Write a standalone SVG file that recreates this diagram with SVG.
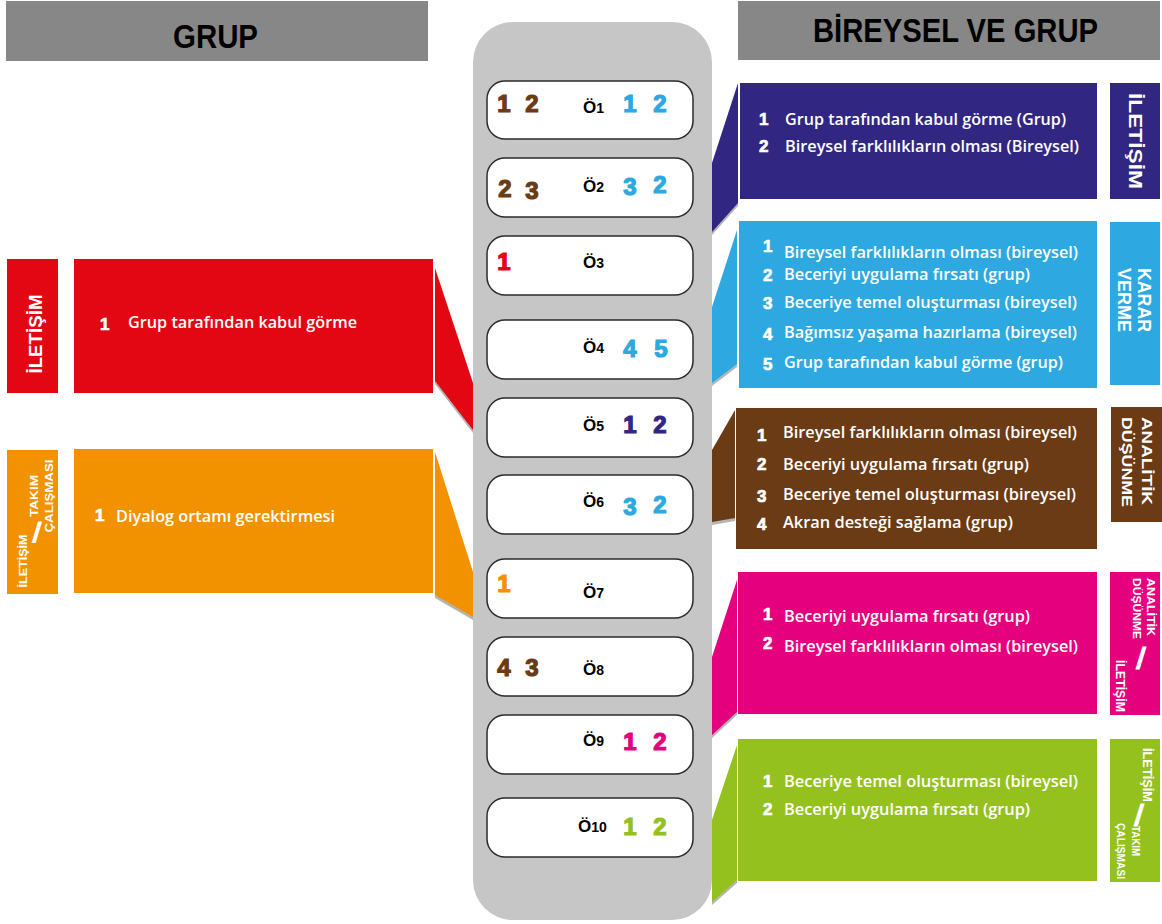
<svg xmlns="http://www.w3.org/2000/svg" width="1162" height="924" viewBox="0 0 1162 924">
<defs>
<style>
.hdr{fill:#878787}
.hdrt{font-family:"Liberation Sans",Arial,sans-serif;font-weight:bold;fill:#000}
.col{fill:#c6c6c6}
.row{fill:#fff;stroke:#2b2b2b;stroke-width:1.5}
.num{font-family:"Liberation Sans",Arial,sans-serif;font-weight:bold;font-size:24px;text-anchor:middle;stroke-width:1.2}
.lab{font-family:"Liberation Sans",Arial,sans-serif;font-weight:bold;font-size:17px;fill:#000}
.lab tspan{font-size:14px}
.body{font-family:"Open Sans","Liberation Sans",sans-serif;font-weight:600;font-size:16px;fill:#fff}
.bn{font-family:"Liberation Sans",Arial,sans-serif;font-weight:bold;font-size:17px;fill:#fff;stroke:#fff;stroke-width:0.7}
.vt{font-family:"Liberation Sans",Arial,sans-serif;font-weight:bold;fill:#fff;text-anchor:middle}
.vs{font-family:"Liberation Sans",Arial,sans-serif;font-weight:bold;fill:#fff}
.sl{font-family:"DejaVu Sans","Liberation Sans",sans-serif;font-weight:bold;fill:#fff;stroke:#fff;stroke-width:1.2;text-anchor:middle}
.shadow{fill:#b5b5b5}
.brown{fill:#6a3b14}.blue{fill:#2ea8e0}.purple{fill:#312783}.red{fill:#e30613}.orange{fill:#f39200}.pink{fill:#e5007d}.green{fill:#95c11f}
.num.brown{stroke:#6a3b14}.num.blue{stroke:#2ea8e0}.num.purple{stroke:#312783}.num.red{stroke:#e30613}.num.orange{stroke:#f39200}.num.pink{stroke:#e5007d}.num.green{stroke:#95c11f}
</style>
</defs>

<!-- headers -->
<g id="header-grup">
<rect class="hdr" x="6" y="1" width="422" height="60"/>
<text class="hdrt" x="173" y="48" font-size="34" textLength="85" lengthAdjust="spacingAndGlyphs">GRUP</text>
</g>
<g id="header-bireysel">
<rect class="hdr" x="738" y="1" width="422" height="59"/>
<text class="hdrt" x="813" y="42" font-size="33" textLength="285" lengthAdjust="spacingAndGlyphs">BİREYSEL VE GRUP</text>
</g>

<!-- connectors (wedges) -->
<g id="connectors">
<polygon class="shadow" points="435,271 473,386 473,433 435,384"/>
<polygon class="red" points="435,268 473,383 473,430 435,381"/>
<polygon class="shadow" points="435,455 473,575 473,620 435,598"/>
<polygon class="orange" points="435,452 473,572 473,617 435,595"/>
<polygon class="shadow" points="712,166 738,86 738,206 712,235"/>
<polygon class="purple" points="712,163 738,83 738,203 712,232"/>
<polygon class="shadow" points="712,310 737,233 737,367 712,386"/>
<polygon class="blue" points="712,307 737,230 737,364 712,383"/>
<polygon class="shadow" points="712,453 735,413 735,521 712,525"/>
<polygon class="brown" points="712,450 735,410 735,518 712,522"/>
<polygon class="shadow" points="712,660 737,583 737,715 712,738"/>
<polygon class="pink" points="712,657 737,580 737,712 712,735"/>
<polygon class="shadow" points="712,823 737,748 737,883 712,905"/>
<polygon class="green" points="712,820 737,745 737,880 712,902"/>
</g>

<!-- center column -->
<g id="column">
<rect class="col" x="473" y="22" width="239" height="898" rx="40"/>
</g>

<g id="row1">
<rect class="row" x="487" y="81" width="206" height="58" rx="18"/>
<text class="num brown" x="504" y="112">1</text><text class="num brown" x="532" y="112">2</text>
<text class="lab" x="583" y="113">Ö<tspan>1</tspan></text>
<text class="num blue" x="630" y="112">1</text><text class="num blue" x="660" y="112">2</text>
</g>
<g id="row2">
<rect class="row" x="487" y="158" width="206" height="59" rx="18"/>
<text class="num brown" x="505" y="197">2</text><text class="num brown" x="532" y="199">3</text>
<text class="lab" x="583" y="192">Ö<tspan>2</tspan></text>
<text class="num blue" x="630" y="195">3</text><text class="num blue" x="660" y="193">2</text>
</g>
<g id="row3">
<rect class="row" x="487" y="236" width="206" height="59" rx="18"/>
<text class="num red" x="504" y="270">1</text>
<text class="lab" x="583" y="268">Ö<tspan>3</tspan></text>
</g>
<g id="row4">
<rect class="row" x="487" y="320" width="206" height="59" rx="18"/>
<text class="lab" x="583" y="353">Ö<tspan>4</tspan></text>
<text class="num blue" x="630" y="357">4</text><text class="num blue" x="661" y="357">5</text>
</g>
<g id="row5">
<rect class="row" x="487" y="398" width="206" height="59" rx="18"/>
<text class="lab" x="583" y="431">Ö<tspan>5</tspan></text>
<text class="num purple" x="630" y="433">1</text><text class="num purple" x="660" y="433">2</text>
</g>
<g id="row6">
<rect class="row" x="487" y="475" width="206" height="59" rx="18"/>
<text class="lab" x="583" y="507">Ö<tspan>6</tspan></text>
<text class="num blue" x="630" y="515">3</text><text class="num blue" x="660" y="513">2</text>
</g>
<g id="row7">
<rect class="row" x="487" y="559" width="206" height="59" rx="18"/>
<text class="num orange" x="504" y="592">1</text>
<text class="lab" x="583" y="598">Ö<tspan>7</tspan></text>
</g>
<g id="row8">
<rect class="row" x="487" y="637" width="206" height="59" rx="18"/>
<text class="num brown" x="504" y="676">4</text><text class="num brown" x="532" y="676">3</text>
<text class="lab" x="583" y="675">Ö<tspan>8</tspan></text>
</g>
<g id="row9">
<rect class="row" x="487" y="715" width="206" height="59" rx="18"/>
<text class="lab" x="583" y="746">Ö<tspan>9</tspan></text>
<text class="num pink" x="630" y="750">1</text><text class="num pink" x="660" y="750">2</text>
</g>
<g id="row10">
<rect class="row" x="487" y="798" width="206" height="59" rx="18"/>
<text class="lab" x="578" y="832">Ö<tspan>10</tspan></text>
<text class="num green" x="630" y="835">1</text><text class="num green" x="660" y="835">2</text>
</g>

<!-- left side -->
<g id="left-iletisim">
<rect class="red" x="7" y="259" width="51" height="134"/>
<text class="vt" transform="translate(42,334) rotate(-90)" font-size="19" textLength="79" lengthAdjust="spacingAndGlyphs">İLETİŞİM</text>
<rect class="red" x="74" y="259" width="359" height="134"/>
<text class="bn" x="100" y="330">1</text>
<text class="body" x="128" y="328" textLength="229" lengthAdjust="spacingAndGlyphs">Grup tarafından kabul görme</text>
</g>
<g id="left-takim">
<rect class="orange" x="7" y="450" width="51" height="144"/>
<text class="vt" transform="translate(27,561) rotate(-90)" font-size="11" textLength="53" lengthAdjust="spacingAndGlyphs">İLETİŞİM</text>
<text class="sl" x="37" y="540" font-size="24">/</text>
<text class="vt" transform="translate(38,496) rotate(-90)" font-size="11" textLength="42" lengthAdjust="spacingAndGlyphs">TAKIM</text>
<text class="vt" transform="translate(53,496) rotate(-90)" font-size="11" textLength="73" lengthAdjust="spacingAndGlyphs">ÇALIŞMASI</text>
<rect class="orange" x="74" y="449" width="359" height="144"/>
<text class="bn" x="95" y="521">1</text>
<text class="body" x="116" y="522" textLength="219" lengthAdjust="spacingAndGlyphs">Diyalog ortamı gerektirmesi</text>
</g>

<!-- right side -->
<g id="right-iletisim">
<rect class="purple" x="740" y="83" width="357" height="116"/>
<text class="bn" x="759" y="125">1</text>
<text class="body" x="785" y="125" textLength="281" lengthAdjust="spacingAndGlyphs">Grup tarafından kabul görme (Grup)</text>
<text class="bn" x="759" y="152">2</text>
<text class="body" x="785" y="152" textLength="294" lengthAdjust="spacingAndGlyphs">Bireysel farklılıkların olması (Bireysel)</text>
<rect class="purple" x="1110" y="83" width="50" height="116"/>
<text class="vt" transform="translate(1129,141) rotate(90)" font-size="19" textLength="96" lengthAdjust="spacingAndGlyphs">İLETİŞİM</text>
</g>

<g id="right-karar">
<rect class="blue" x="739" y="221" width="358" height="167"/>
<text class="bn" x="763" y="252">1</text>
<text class="body" x="784" y="258" textLength="294" lengthAdjust="spacingAndGlyphs">Bireysel farklılıkların olması (bireysel)</text>
<text class="bn" x="763" y="281">2</text>
<text class="body" x="784" y="280" textLength="246" lengthAdjust="spacingAndGlyphs">Beceriyi uygulama fırsatı (grup)</text>
<text class="bn" x="763" y="309">3</text>
<text class="body" x="784" y="308" textLength="293" lengthAdjust="spacingAndGlyphs">Beceriye temel oluşturması (bireysel)</text>
<text class="bn" x="763" y="340">4</text>
<text class="body" x="784" y="338" textLength="293" lengthAdjust="spacingAndGlyphs">Bağımsız yaşama hazırlama (bireysel)</text>
<text class="bn" x="763" y="370">5</text>
<text class="body" x="784" y="368" textLength="279" lengthAdjust="spacingAndGlyphs">Grup tarafından kabul görme (grup)</text>
<rect class="blue" x="1110" y="222" width="50" height="163"/>
<text class="vt" transform="translate(1138,300) rotate(90)" font-size="19" textLength="64" lengthAdjust="spacingAndGlyphs">KARAR</text>
<text class="vt" transform="translate(1118,300) rotate(90)" font-size="19" textLength="64" lengthAdjust="spacingAndGlyphs">VERME</text>
</g>

<g id="right-analitik">
<rect class="brown" x="736" y="408" width="361" height="141"/>
<text class="bn" x="757" y="441">1</text>
<text class="body" x="783" y="438" textLength="294" lengthAdjust="spacingAndGlyphs">Bireysel farklılıkların olması (bireysel)</text>
<text class="bn" x="757" y="470">2</text>
<text class="body" x="783" y="470" textLength="246" lengthAdjust="spacingAndGlyphs">Beceriyi uygulama fırsatı (grup)</text>
<text class="bn" x="757" y="502">3</text>
<text class="body" x="783" y="500" textLength="293" lengthAdjust="spacingAndGlyphs">Beceriye temel oluşturması (bireysel)</text>
<text class="bn" x="757" y="530">4</text>
<text class="body" x="783" y="528" textLength="230" lengthAdjust="spacingAndGlyphs">Akran desteği sağlama (grup)</text>
<rect class="brown" x="1111" y="407" width="51" height="115"/>
<text class="vt" transform="translate(1142,461) rotate(90)" font-size="15" textLength="88" lengthAdjust="spacingAndGlyphs">ANALİTİK</text>
<text class="vt" transform="translate(1122,462) rotate(90)" font-size="15" textLength="90" lengthAdjust="spacingAndGlyphs">DÜŞÜNME</text>
</g>

<g id="right-analitik-iletisim">
<rect class="pink" x="738" y="572" width="359" height="142"/>
<text class="bn" x="763" y="620">1</text>
<text class="body" x="784" y="622" textLength="246" lengthAdjust="spacingAndGlyphs">Beceriyi uygulama fırsatı (grup)</text>
<text class="bn" x="763" y="649">2</text>
<text class="body" x="784" y="652" textLength="294" lengthAdjust="spacingAndGlyphs">Bireysel farklılıkların olması (bireysel)</text>
<rect class="pink" x="1110" y="572" width="50" height="143"/>
<text class="vs" transform="translate(1147,578) rotate(90)" font-size="11" textLength="58" lengthAdjust="spacingAndGlyphs">ANALİTİK</text>
<text class="vs" transform="translate(1133,578) rotate(90)" font-size="11" textLength="61" lengthAdjust="spacingAndGlyphs">DÜŞÜNME</text>
<text class="sl" x="1141" y="667" font-size="26">/</text>
<text class="vs" transform="translate(1116,660) rotate(90)" font-size="12" textLength="52" lengthAdjust="spacingAndGlyphs">İLETİŞİM</text>
</g>

<g id="right-iletisim-takim">
<rect class="green" x="738" y="739" width="359" height="142"/>
<text class="bn" x="763" y="787">1</text>
<text class="body" x="784" y="787" textLength="294" lengthAdjust="spacingAndGlyphs">Beceriye temel oluşturması (bireysel)</text>
<text class="bn" x="763" y="815">2</text>
<text class="body" x="784" y="815" textLength="246" lengthAdjust="spacingAndGlyphs">Beceriyi uygulama fırsatı (grup)</text>
<rect class="green" x="1110" y="739" width="50" height="143"/>
<text class="vs" transform="translate(1143,748) rotate(90)" font-size="12" textLength="54" lengthAdjust="spacingAndGlyphs">İLETİŞİM</text>
<text class="sl" x="1139" y="824" font-size="26">/</text>
<text class="vt" transform="translate(1132,841) rotate(90)" font-size="11" textLength="30" lengthAdjust="spacingAndGlyphs">TAKIM</text>
<text class="vt" transform="translate(1117,851) rotate(90)" font-size="11" textLength="56" lengthAdjust="spacingAndGlyphs">ÇALIŞMASI</text>
</g>
</svg>
